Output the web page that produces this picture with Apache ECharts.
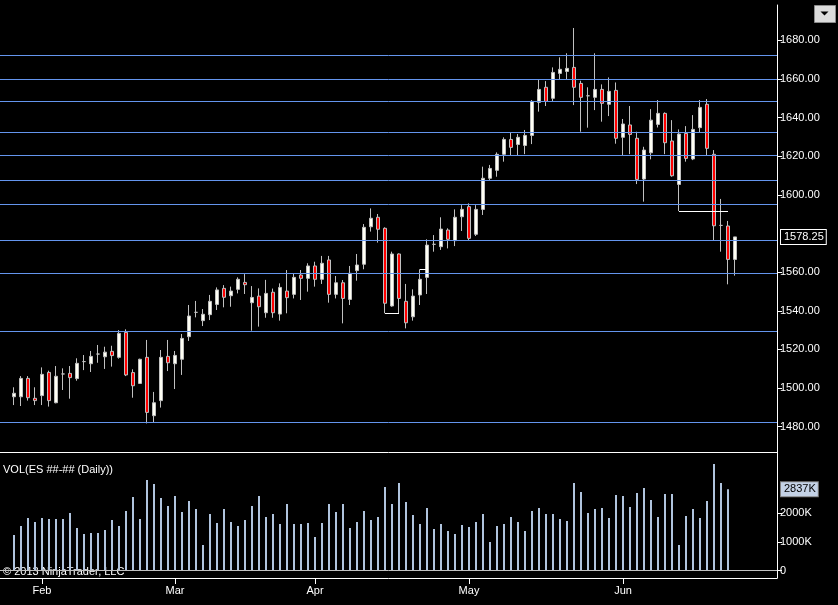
<!DOCTYPE html>
<html>
<head>
<meta charset="utf-8">
<title>ES Daily</title>
<script src="https://cdn.jsdelivr.net/npm/echarts@6/dist/echarts.min.js"></script>
<style>
html, body { margin: 0; padding: 0; background: #000; }
#main { width: 838px; height: 605px; }
</style>
</head>
<body>
<div id="main"></div>
<script>
// trading days shown on the chart
var dates = [
	'2013-01-28','2013-01-29','2013-01-30','2013-01-31',
	'2013-02-01','2013-02-04','2013-02-05','2013-02-06','2013-02-07','2013-02-08',
	'2013-02-11','2013-02-12','2013-02-13','2013-02-14','2013-02-15',
	'2013-02-19','2013-02-20','2013-02-21','2013-02-22',
	'2013-02-25','2013-02-26','2013-02-27','2013-02-28',
	'2013-03-01','2013-03-04','2013-03-05','2013-03-06','2013-03-07','2013-03-08',
	'2013-03-11','2013-03-12','2013-03-13','2013-03-14','2013-03-15',
	'2013-03-18','2013-03-19','2013-03-20','2013-03-21','2013-03-22',
	'2013-03-25','2013-03-26','2013-03-27','2013-03-28',
	'2013-04-01','2013-04-02','2013-04-03','2013-04-04','2013-04-05',
	'2013-04-08','2013-04-09','2013-04-10','2013-04-11','2013-04-12',
	'2013-04-15','2013-04-16','2013-04-17','2013-04-18','2013-04-19',
	'2013-04-22','2013-04-23','2013-04-24','2013-04-25','2013-04-26',
	'2013-04-29','2013-04-30',
	'2013-05-01','2013-05-02','2013-05-03',
	'2013-05-06','2013-05-07','2013-05-08','2013-05-09','2013-05-10',
	'2013-05-13','2013-05-14','2013-05-15','2013-05-16','2013-05-17',
	'2013-05-20','2013-05-21','2013-05-22','2013-05-23','2013-05-24',
	'2013-05-28','2013-05-29','2013-05-30','2013-05-31',
	'2013-06-03','2013-06-04','2013-06-05','2013-06-06','2013-06-07',
	'2013-06-10','2013-06-11','2013-06-12','2013-06-13','2013-06-14',
	'2013-06-17','2013-06-18','2013-06-19','2013-06-20','2013-06-21',
	'2013-06-24','2013-06-25'
];

var opens = [
	1495.5,1495.5,1505.0,1494.7,1496.1,1508.1,1492.4,1507.3,1507.6,1504.9,
	1513.7,1512.6,1517.6,1516.2,1519.0,1515.9,1528.8,1508.0,1502.4,1515.9,
	1485.7,1493.5,1516.4,1512.6,1514.9,1526.6,1539.2,1534.9,1538.0,1543.3,
	1551.6,1547.8,1551.1,1554.7,1544.2,1547.6,1539.0,1549.6,1538.3,1550.2,
	1548.5,1558.5,1556.8,1563.2,1556.3,1566.3,1548.5,1554.5,1545.9,1560.8,
	1564.1,1583.5,1588.4,1582.7,1542.5,1569.4,1544.9,1536.9,1548.2,1557.3,
	1574.4,1573.2,1581.8,1576.3,1588.7,1593.9,1579.6,1592.5,1608.6,1612.7,
	1621.0,1628.7,1626.1,1625.6,1630.8,1647.9,1655.7,1650.0,1662.9,1663.9,
	1666.0,1657.7,1651.3,1650.5,1654.6,1646.9,1654.1,1629.8,1636.2,1629.3,
	1608.2,1621.8,1636.5,1642.2,1627.9,1605.4,1631.8,1618.6,1634.8,1646.9,
	1621.0,1584.2,1583.9,1566.6
];
var highs = [
	1500.4,1506.2,1506.2,1500.4,1510.7,1509.0,1511.4,1510.2,1511.4,1515.4,
	1517.1,1519.2,1522.3,1521.4,1521.9,1530.0,1530.4,1509.7,1515.2,1524.9,
	1498.0,1519.7,1524.9,1519.2,1528.0,1543.0,1545.1,1540.9,1548.2,1552.1,
	1553.3,1552.5,1557.3,1559.0,1552.8,1551.6,1556.0,1551.5,1554.2,1561.1,
	1559.4,1561.1,1564.6,1565.4,1568.4,1568.4,1558.0,1555.9,1563.2,1569.4,
	1584.9,1593.0,1590.1,1583.2,1570.6,1569.7,1553.9,1551.1,1561.5,1577.0,
	1579.2,1588.4,1582.7,1592.5,1594.7,1595.6,1594.7,1614.6,1615.5,1622.0,
	1629.8,1632.4,1631.5,1633.6,1649.1,1659.8,1658.9,1666.0,1671.2,1673.3,
	1686.4,1659.1,1655.7,1673.3,1657.2,1660.8,1658.2,1639.3,1646.0,1632.7,
	1624.9,1644.4,1649.1,1642.7,1638.7,1633.9,1635.6,1641.3,1649.1,1649.6,
	1623.2,1597.9,1586.5,1578.25
];
var lows = [
	1491.2,1490.7,1493.5,1491.2,1491.2,1490.4,1492.1,1499.0,1494.5,1503.8,
	1509.3,1508.3,1513.1,1509.9,1511.1,1515.2,1506.2,1495.0,1502.1,1481.7,
	1482.3,1489.9,1508.8,1499.5,1506.8,1524.4,1536.6,1532.1,1535.2,1540.4,
	1541.8,1542.1,1549.0,1548.7,1529.7,1531.8,1536.4,1536.4,1534.9,1538.7,
	1546.4,1545.6,1549.9,1552.5,1553.9,1544.2,1546.4,1533.5,1543.0,1555.6,
	1561.5,1581.0,1575.3,1538.7,1542.1,1538.7,1530.9,1534.9,1543.0,1548.7,
	1570.6,1571.5,1572.3,1573.5,1581.3,1576.3,1578.7,1589.6,1607.3,1609.4,
	1617.2,1620.3,1620.3,1621.1,1626.3,1643.1,1646.0,1648.6,1659.8,1659.8,
	1646.5,1632.7,1634.8,1643.9,1637.9,1640.8,1626.5,1620.6,1621.1,1605.6,
	1596.5,1618.4,1634.9,1621.1,1609.4,1591.6,1617.2,1618.0,1632.2,1620.6,
	1576.6,1570.6,1553.7,1558.2
];
var closes = [
	1497.3,1505.0,1495.0,1493.5,1507.1,1493.5,1506.1,1507.3,1505.4,1512.8,
	1513.7,1516.4,1517.6,1518.6,1516.8,1528.3,1506.8,1501.2,1514.9,1487.4,
	1492.4,1515.9,1513.1,1516.9,1525.7,1537.3,1539.2,1538.2,1544.9,1550.8,
	1547.0,1550.2,1556.3,1553.5,1546.9,1542.1,1549.0,1539.0,1552.1,1546.8,
	1557.3,1556.8,1563.2,1556.3,1564.6,1548.5,1554.5,1546.4,1559.4,1563.7,
	1583.2,1587.9,1582.2,1543.9,1569.4,1546.4,1533.8,1547.6,1556.3,1574.0,
	1574.4,1582.3,1577.0,1588.4,1592.5,1577.5,1592.5,1608.6,1613.7,1621.0,
	1628.7,1624.6,1629.8,1630.8,1648.4,1654.6,1648.4,1663.4,1665.0,1665.5,
	1655.7,1650.5,1651.3,1654.6,1647.4,1653.6,1629.3,1636.7,1631.3,1608.0,
	1623.2,1638.7,1642.2,1627.0,1609.9,1631.5,1618.9,1633.9,1645.3,1624.1,
	1584.0,1584.2,1566.6,1578.25
];

// daily volume in thousands (last bar has no volume yet)
var volumes = [
	1244,1558,1837,1698,1837,1803,1803,1803,2012,1489,
	1279,1314,1314,1419,1768,1558,2082,2570,1803,3163,
	3024,2535,2256,2605,2047,2431,2152,896,1977,1663,
	2152,1698,1558,1768,2256,2605,1872,1977,1628,2326,
	1628,1628,1663,1175,1663,2326,2047,2326,1489,1698,
	2082,1768,1872,2919,2326,3059,2396,1942,1628,2186,
	1454,1628,1384,1279,1593,1524,1698,1977,1000,1558,
	1628,1872,1698,1384,2082,2186,1977,1977,1803,1733,
	3059,2745,2012,2152,2186,1837,2640,2605,2221,2710,
	2884,2466,1872,2675,2675,896,1907,2152,1837,2431,
	3722,3059,2837,'-'
];

// horizontal levels drawn on the price panel
var levels = [1672.2, 1659.8, 1648.4, 1632.4, 1620.5, 1607.6, 1595.1, 1576.5, 1559.4, 1529.4, 1482.3];
// short white drawn segments: [start bar, end bar, price]
var segments = [[53, 55, 1538.7], [58, 59, 1561.6], [95, 102, 1591.5]];
// 1580 is hidden behind the last-price tag
var priceTicks = [1480, 1500, 1520, 1540, 1560, 1600, 1620, 1640, 1660, 1680];
var volumeTicks = [0, 1000, 2000];
var lastPrice = 1578.25;
var lastVolume = 2837;

var monthNames = ['Jan','Feb','Mar','Apr','May','Jun','Jul','Aug','Sep','Oct','Nov','Dec'];
var padBefore = 2, padAfter = 6;
var FONT = "'Liberation Sans', Arial, sans-serif";

function buildCategories(){
	var cats = [];
	for (var i = 0; i < padBefore; i++) cats.push('pre' + i);
	cats = cats.concat(dates);
	for (var j = 0; j < padAfter; j++) cats.push('post' + j);
	return cats;
}

function pad(arr){
	var out = [];
	for (var i = 0; i < padBefore; i++) out.push('-');
	out = out.concat(arr);
	for (var j = 0; j < padAfter; j++) out.push('-');
	return out;
}

function isMonthStart(index){
	var i = index - padBefore;
	if (i <= 0 || i >= dates.length) return false;
	return dates[i].substr(5, 2) !== dates[i - 1].substr(5, 2);
}

// value tag sitting on the right axis
function tagLine(value, text, fg, bg, border){
	return {
		yAxis: value,
		lineStyle: { color: 'rgba(0,0,0,0)', width: 1, type: 'solid' },
		label: {
			show: true, position: 'end', distance: 4,
			formatter: text,
			color: fg, backgroundColor: bg,
			borderColor: border, borderWidth: 1,
			padding: [2, 2, 1, 3], fontSize: 11, fontFamily: FONT
		}
	};
}

function createOption(){
	var candles = [];
	for (var i = 0; i < dates.length; i++) {
		candles.push([opens[i], closes[i], lows[i], highs[i]]);
	}

	var priceMarks = [];
	levels.forEach(function (v) {
		priceMarks.push({ yAxis: v });
	});
	segments.forEach(function (s) {
		priceMarks.push([
			{ coord: [s[0] + padBefore, s[2]], lineStyle: { color: '#ffffff', width: 1, type: 'solid' } },
			{ coord: [s[1] + padBefore, s[2]] }
		]);
	});
	priceMarks.push(tagLine(lastPrice, lastPrice.toFixed(2), '#ffffff', '#000000', '#ffffff'));

	var cats = buildCategories();

	option = {
		backgroundColor: '#000000',
		animation: false,
		grid: [
			{ left: 0, right: 61, top: 5, bottom: 153 },
			{ left: 0, right: 61, top: 452, bottom: 27 }
		],
		xAxis: [
			{
				type: 'category', gridIndex: 0, data: cats, boundaryGap: false,
				axisLine: { onZero: false, lineStyle: { color: '#ffffff', width: 1 } },
				axisTick: { show: false }, axisLabel: { show: false }, splitLine: { show: false }
			},
			{
				type: 'category', gridIndex: 1, data: cats, boundaryGap: false,
				axisLine: { onZero: false, lineStyle: { color: '#ffffff', width: 1 } },
				axisTick: { show: true, interval: isMonthStart, length: 6, lineStyle: { color: '#ffffff' } },
				axisLabel: {
					show: true, interval: isMonthStart, margin: 7,
					color: '#ffffff', fontSize: 11, fontFamily: FONT,
					formatter: function (v) { return monthNames[parseInt(v.substr(5, 2), 10) - 1]; }
				},
				splitLine: { show: false }
			}
		],
		yAxis: [
			{
				type: 'value', gridIndex: 0, position: 'right',
				min: 1466.9, max: 1698.3,
				axisLine: { show: true, lineStyle: { color: '#ffffff', width: 1 } },
				axisTick: { show: true, length: 5, customValues: priceTicks, lineStyle: { color: '#ffffff' } },
				axisLabel: {
					color: '#ffffff', fontSize: 11, fontFamily: FONT, margin: 3,
					customValues: priceTicks,
					formatter: function (v) { return v.toFixed(2); }
				},
				splitLine: { show: false }
			},
			{
				type: 'value', gridIndex: 1, position: 'right',
				min: -254, max: 4136,
				axisLine: { show: true, lineStyle: { color: '#ffffff', width: 1 } },
				axisTick: { show: true, length: 5, customValues: volumeTicks, lineStyle: { color: '#ffffff' } },
				axisLabel: {
					color: '#ffffff', fontSize: 11, fontFamily: FONT, margin: 3,
					customValues: volumeTicks,
					formatter: function (v) { return v === 0 ? '0' : v + 'K'; }
				},
				splitLine: { show: false }
			}
		],
		series: [
			{
				name: 'ES',
				type: 'candlestick',
				xAxisIndex: 0, yAxisIndex: 0,
				data: pad(candles),
				barWidth: 4,
				itemStyle: {
					color: '#fffff4', color0: '#ff0000',
					borderColor: '#c0c0c0', borderColor0: '#c0c0c0', borderWidth: 1
				},
				markLine: {
					silent: true, symbol: 'none',
					label: { show: false },
					lineStyle: { color: '#6495ed', width: 1, type: 'solid' },
					data: priceMarks
				}
			},
			{
				name: 'VOL',
				type: 'bar',
				xAxisIndex: 1, yAxisIndex: 1,
				data: pad(volumes),
				barWidth: 2,
				itemStyle: { color: '#b0c4de' },
				markLine: {
					silent: true, symbol: 'none',
					label: { show: false },
					data: [
						{ yAxis: 0, lineStyle: { color: '#c0c0c0', width: 1, type: 'solid' } },
						tagLine(lastVolume, lastVolume + 'K', '#000000', '#c4d2e6', '#808080')
					]
				}
			}
		],
		graphic: [
			{ type: 'text', left: 3, top: 464, style: { text: 'VOL(ES ##-## (Daily))', fill: '#ffffff', font: '11px ' + FONT } },
			{ type: 'text', left: 3, top: 566, style: { text: '\u00a9 2013 NinjaTrader, LLC', fill: '#ffffff', font: '11px ' + FONT } },
			{
				type: 'group', right: 2, top: 5,
				children: [
					{ type: 'rect', shape: { x: 0, y: 0, width: 21, height: 17 }, style: { fill: '#dcdcdc', stroke: '#8c8c8c', lineWidth: 1 } },
					{ type: 'polygon', shape: { points: [[6, 6], [14, 6], [10, 10]] }, style: { fill: '#000000' } }
				]
			}
		]
	};
	return option;
}

var myChart = echarts.init(document.getElementById('main'));
myChart.setOption(createOption());
</script>
</body>
</html>
